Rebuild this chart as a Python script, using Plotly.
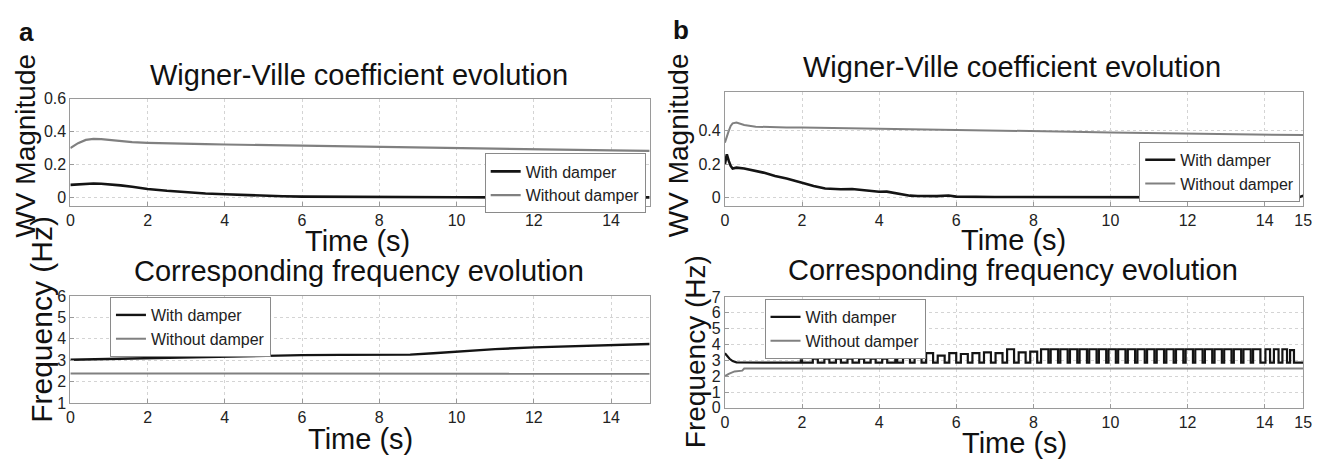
import plotly.graph_objects as go

W, H = 1334, 465
FONT = "Liberation Sans, Arial, sans-serif"
BLACK = "#141414"
GRAY = "#808080"

# ---------------- Panel a : Wigner-Ville coefficient ----------------
a_wv_t = [0, 0.2, 0.4, 0.6, 0.8, 1.0, 1.3, 1.6, 2.0, 2.5, 3.0, 3.5, 4.0, 4.5, 5.0,
          5.5, 6.0, 7.0, 8.0, 9.0, 10.0, 11.0, 12.0, 13.0, 14.0, 15.0]
a_wv_with = [0.078, 0.082, 0.085, 0.086, 0.085, 0.082, 0.075, 0.066, 0.053, 0.042,
             0.033, 0.026, 0.021, 0.016, 0.012, 0.009, 0.007, 0.005, 0.004, 0.003,
             0.003, 0.002, 0.002, 0.002, 0.002, 0.002]
a_wv_without = [0.300, 0.330, 0.350, 0.356, 0.355, 0.350, 0.343, 0.336, 0.332, 0.328,
                0.326, 0.324, 0.322, 0.320, 0.318, 0.316, 0.314, 0.312, 0.310, 0.306,
                0.302, 0.298, 0.294, 0.290, 0.286, 0.283]

# ---------------- Panel a : frequency ----------------
a_fr_t = [0, 1, 2, 3, 4, 5, 6, 7, 8, 8.8, 9.4, 10, 10.5, 11, 12, 13, 14, 15]
a_fr_with = [3.02, 3.06, 3.10, 3.13, 3.16, 3.20, 3.24, 3.25, 3.25, 3.26, 3.33, 3.40,
             3.46, 3.52, 3.60, 3.65, 3.70, 3.76]
a_fr_without = [2.38, 2.38, 2.37, 2.37, 2.37, 2.37, 2.37, 2.37, 2.37, 2.37, 2.37, 2.37,
                2.37, 2.37, 2.37, 2.37, 2.37, 2.37]

# ---------------- Panel b : Wigner-Ville coefficient ----------------
b_wv_t = [0, 0.05, 0.1, 0.15, 0.2, 0.3, 0.5, 0.8, 1.0, 1.3, 1.6, 2.0, 2.3, 2.6, 3.0,
          3.3, 3.6, 4.0, 4.2, 4.5, 4.8, 5.0, 5.5, 5.8, 6.0, 7.0, 8.0, 9.0, 10.0, 11.0,
          12.0, 13.0, 14.0, 14.15, 14.3, 14.45, 14.6, 14.75, 14.9, 15.0]
b_wv_with = [0.20, 0.26, 0.22, 0.19, 0.175, 0.18, 0.175, 0.16, 0.15, 0.13, 0.115, 0.09,
             0.07, 0.055, 0.05, 0.052, 0.045, 0.035, 0.036, 0.022, 0.012, 0.010, 0.009,
             0.013, 0.006, 0.004, 0.003, 0.002, 0.002, 0.002, 0.002, 0.002, 0.003,
             0.012, 0.002, 0.011, 0.002, 0.012, 0.003, 0.012]
b_wv_without = [0.33, 0.37, 0.40, 0.43, 0.445, 0.45, 0.435, 0.425, 0.423, 0.422, 0.421,
                0.420, 0.419, 0.418, 0.417, 0.416, 0.415, 0.413, 0.413, 0.412, 0.411,
                0.410, 0.409, 0.408, 0.407, 0.404, 0.400, 0.395, 0.390, 0.387, 0.384,
                0.381, 0.378, 0.378, 0.377, 0.377, 0.376, 0.376, 0.375, 0.375]

# ---------------- Panel b : frequency ----------------
b_fr_without_t = [0, 0.1, 0.25, 0.45, 0.5, 15]
b_fr_without = [2.0, 2.15, 2.3, 2.35, 2.48, 2.48]
b_fr_start_t = [0, 0.05, 0.12, 0.2, 0.3]
b_fr_start = [3.45, 3.3, 3.1, 2.95, 2.87]
b_fr_base = 2.85
b_pulse_on = [1.97, 2.28, 2.58, 2.88, 3.18, 3.48, 3.78, 4.08, 4.42,
              4.62, 4.92, 5.22, 5.52, 5.82, 6.12, 6.42, 6.72, 7.02, 7.32, 7.62, 7.92,
              8.20, 8.45, 8.70, 8.95, 9.20, 9.45, 9.70, 9.95, 10.20, 10.45, 10.70,
              10.95, 11.20, 11.45, 11.70, 11.95, 12.20, 12.45, 12.70, 12.95, 13.20,
              13.45, 13.70, 14.02, 14.24, 14.46, 14.66]
b_pulse_off = [2.00, 2.41, 2.71, 3.01, 3.31, 3.61, 3.91, 4.21, 4.47,
               4.80, 5.10, 5.40, 5.70, 6.00, 6.30, 6.60, 6.90, 7.20, 7.50, 7.80, 8.10,
               8.39, 8.64, 8.89, 9.14, 9.39, 9.64, 9.89, 10.14, 10.39, 10.64, 10.89,
               11.14, 11.39, 11.64, 11.89, 12.14, 12.39, 12.64, 12.89, 13.14, 13.39,
               13.64, 13.89, 14.14, 14.36, 14.58, 14.76]
b_pulse_hi = [3.0, 3.1, 3.1, 3.1, 3.1, 3.1, 3.1, 3.1, 3.25,
              3.4, 3.5, 3.45, 3.3, 3.45, 3.4, 3.45, 3.5, 3.45, 3.7, 3.5, 3.55,
              3.7, 3.7, 3.7, 3.7, 3.7, 3.7, 3.7, 3.7, 3.7, 3.7, 3.7,
              3.7, 3.7, 3.7, 3.7, 3.7, 3.7, 3.7, 3.7, 3.7, 3.7,
              3.7, 3.7, 3.7, 3.7, 3.7, 3.65]

# build the step series for "with damper" (panel b frequency)
bx = list(b_fr_start_t)
by = list(b_fr_start)
for on, off, hi in zip(b_pulse_on, b_pulse_off, b_pulse_hi):
    bx += [on, on, off, off]
    by += [b_fr_base, hi, hi, b_fr_base]
bx.append(15)
by.append(b_fr_base)

fig = go.Figure()

def add(x, y, name, color, width, xa, ya, leg):
    fig.add_trace(go.Scatter(x=x, y=y, mode="lines", name=name,
                             line=dict(color=color, width=width),
                             xaxis=xa, yaxis=ya, legend=leg))

add(a_wv_t, a_wv_with, "With damper", BLACK, 2.6, "x", "y", "legend")
add(a_wv_t, a_wv_without, "Without damper", GRAY, 2.2, "x", "y", "legend")
add(a_fr_t, a_fr_with, "With damper", BLACK, 2.4, "x2", "y2", "legend2")
add(a_fr_t, a_fr_without, "Without damper", GRAY, 2.0, "x2", "y2", "legend2")
add(b_wv_t, b_wv_with, "With damper", BLACK, 2.6, "x3", "y3", "legend3")
add(b_wv_t, b_wv_without, "Without damper", GRAY, 2.0, "x3", "y3", "legend3")
add(bx, by, "With damper", BLACK, 2.2, "x4", "y4", "legend4")
add(b_fr_without_t, b_fr_without, "Without damper", GRAY, 2.0, "x4", "y4", "legend4")

# screen-pixel -> paper coordinate helpers
def px_x(p):
    return p / W

def px_y(p):
    return 1 - p / H

axis_common = dict(showline=True, linecolor="#9a9a9a", linewidth=1, mirror=True,
                   showgrid=True, gridcolor="#d4d4d4", griddash="dot", gridwidth=1,
                   zeroline=False, ticks="inside", ticklen=4, tickcolor="#9a9a9a",
                   tickfont=dict(size=16, color="#222", family=FONT))

left_dom = [px_x(67), px_x(652)]
right_dom = [px_x(728), px_x(1312)]
left_ticks = [0, 2, 4, 6, 8, 10, 12, 14]
right_ticks = [0, 2, 4, 6, 8, 10, 12, 14, 15]

fig.update_layout(
    width=W, height=H, margin=dict(l=0, r=0, t=0, b=0),
    paper_bgcolor="white", plot_bgcolor="white",
    font=dict(family=FONT, color="#222"),
    xaxis=dict(domain=left_dom, range=[0, 15], tickvals=left_ticks, anchor="y", **axis_common),
    yaxis=dict(domain=[px_y(205), px_y(94)], range=[-0.047, 0.6],
               tickvals=[0, 0.2, 0.4, 0.6], ticktext=["0", "0.2", "0.4", "0.6"],
               anchor="x", **axis_common),
    xaxis2=dict(domain=left_dom, range=[0, 15], tickvals=left_ticks, anchor="y2", **axis_common),
    yaxis2=dict(domain=[px_y(410), px_y(299)], range=[1, 6],
                tickvals=[1, 2, 3, 4, 5, 6], anchor="x2", **axis_common),
    xaxis3=dict(domain=right_dom, range=[0, 15], tickvals=right_ticks, anchor="y3", **axis_common),
    yaxis3=dict(domain=[px_y(205), px_y(87)], range=[-0.047, 0.634],
                tickvals=[0, 0.2, 0.4], ticktext=["0", "0.2", "0.4"],
                anchor="x3", **axis_common),
    xaxis4=dict(domain=right_dom, range=[0, 15], tickvals=right_ticks, anchor="y4", **axis_common),
    yaxis4=dict(domain=[px_y(415), px_y(300)], range=[0, 7],
                tickvals=[0, 1, 2, 3, 4, 5, 6, 7], anchor="x4", **axis_common),
)

leg_common = dict(bordercolor="#8a8a8a", borderwidth=1, bgcolor="white",
                  font=dict(size=16, family=FONT, color="#222"),
                  itemwidth=30, tracegroupgap=0)
fig.update_layout(
    legend=dict(x=px_x(648), y=px_y(151), xanchor="right", yanchor="top", **leg_common),
    legend2=dict(x=px_x(107), y=px_y(300), xanchor="left", yanchor="top", **leg_common),
    legend3=dict(x=px_x(1309), y=px_y(139), xanchor="right", yanchor="top", **leg_common),
    legend4=dict(x=px_x(768), y=px_y(302), xanchor="left", yanchor="top", **leg_common),
)

def text(s, x, y, size, angle=0, bold=False):
    fig.add_annotation(text=f"<b>{s}</b>" if bold else s, x=px_x(x), y=px_y(y),
                       xref="paper", yref="paper", showarrow=False, textangle=angle,
                       xanchor="center", yanchor="middle", borderpad=0,
                       font=dict(size=size, family=FONT, color="#111"))

text("a", 23, 25, 26, bold=True)
text("b", 684, 23, 26, bold=True)
text("Wigner-Ville coefficient evolution", 358, 70, 29)
text("Wigner-Ville coefficient evolution", 1018, 61, 29)
text("Corresponding frequency evolution", 358, 273, 29)
text("Corresponding frequency evolution", 1019, 272, 29)
text("Time (s)", 357, 242, 29)
text("Time (s)", 1019, 241, 29)
text("Time (s)", 360, 447, 29)
text("Time (s)", 1020, 451, 29)
text("WV Magnitude", 22, 143, 28, angle=-90)
text("WV Magnitude", 681, 142, 28, angle=-90)
text("Frequency (Hz)", 38, 323, 30, angle=-90)
text("Frequency (Hz)", 699, 357, 28, angle=-90)

# remove the default page margin so the figure fills the window exactly
fig.write_html("out.html",
               config={"displayModeBar": False},
               post_script="document.body.style.margin='0';"
                           "document.documentElement.style.overflow='hidden';"
                           "document.body.style.overflow='hidden';")
